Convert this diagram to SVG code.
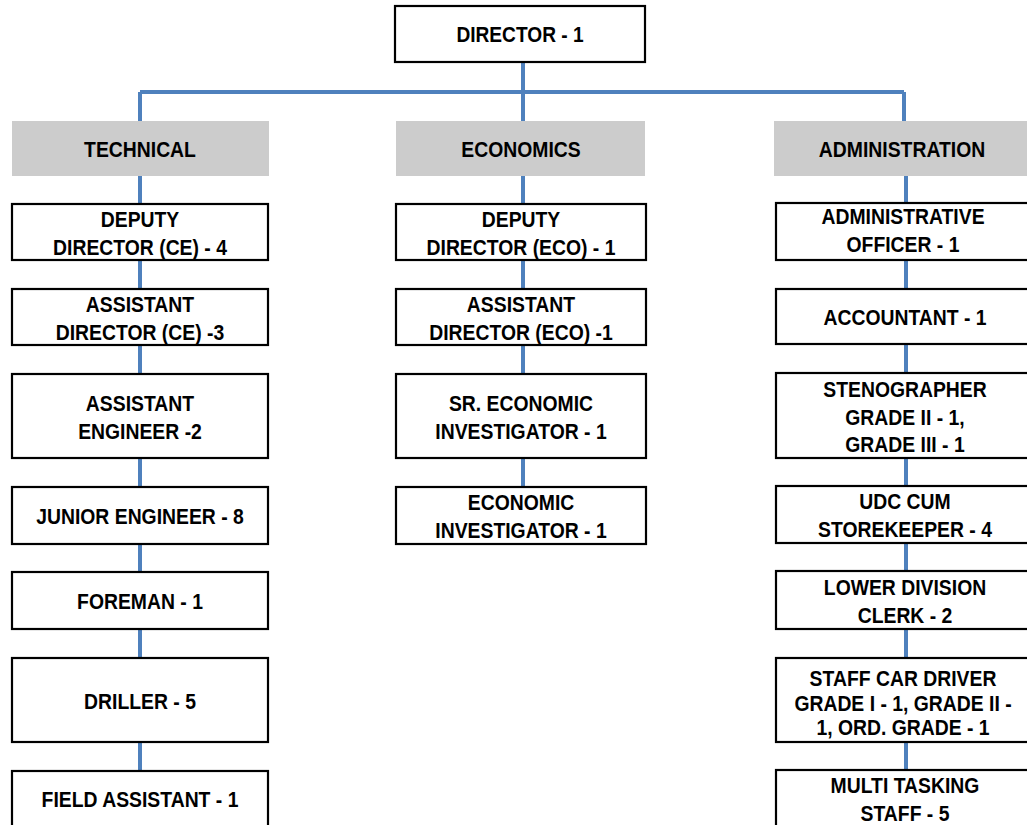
<svg xmlns="http://www.w3.org/2000/svg" width="1027" height="825" viewBox="0 0 1027 825">
<style>
.box{fill:#ffffff;stroke:#000000;stroke-width:2.2}
.hdr{fill:#cccccc;stroke:none}
.t{font-family:"Liberation Sans",Arial,sans-serif;font-weight:bold;font-size:22px;fill:#000000;text-anchor:middle}
.c{stroke:#4f81bd;stroke-width:4;fill:none}
</style>
<rect width="1027" height="825" fill="#ffffff"/>
<g id="connectors">
<path class="c" d="M523 62V121M140 92H904M140 92V121M904 92V121"/>
<path class="c" d="M140 176V204M140 260V289M140 345V374M140 458V487M140 544V572M140 629V658M140 742V771"/>
<path class="c" d="M523 176V204M523 260V289M523 345V374M523 458V487"/>
<path class="c" d="M906 176V203M906 260V289M906 344V373M906 458V486M906 543V571M906 629V658M906 742V770"/>
</g>
<g id="director">
<rect class="box" x="395" y="6" width="250" height="56"/>
<text class="t" transform="translate(520 0) scale(0.87 1)" x="0" y="42">DIRECTOR - 1</text>
</g>
<g id="hdr-technical">
<rect class="hdr" x="12" y="121" width="257" height="55"/>
<text class="t" transform="translate(140 0) scale(0.88 1)" x="0" y="157">TECHNICAL</text>
</g>
<g id="hdr-economics">
<rect class="hdr" x="396" y="121" width="249" height="55"/>
<text class="t" transform="translate(521 0) scale(0.88 1)" x="0" y="157">ECONOMICS</text>
</g>
<g id="hdr-administration">
<rect class="hdr" x="774" y="121" width="260" height="55"/>
<text class="t" transform="translate(902 0) scale(0.88 1)" x="0" y="157">ADMINISTRATION</text>
</g>
<g id="t1">
<rect class="box" x="12" y="204" width="256" height="56"/>
<text class="t" transform="translate(140 0) scale(0.88 1)"><tspan x="0" y="227">DEPUTY</tspan><tspan x="0" y="255">DIRECTOR (CE) - 4</tspan></text>
</g>
<g id="t2">
<rect class="box" x="12" y="289" width="256" height="56"/>
<text class="t" transform="translate(140 0) scale(0.88 1)"><tspan x="0" y="312">ASSISTANT</tspan><tspan x="0" y="340">DIRECTOR (CE) -3</tspan></text>
</g>
<g id="t3">
<rect class="box" x="12" y="374" width="256" height="84"/>
<text class="t" transform="translate(140 0) scale(0.88 1)"><tspan x="0" y="411">ASSISTANT</tspan><tspan x="0" y="439">ENGINEER -2</tspan></text>
</g>
<g id="t4">
<rect class="box" x="12" y="487" width="256" height="57"/>
<text class="t" transform="translate(140 0) scale(0.88 1)" x="0" y="524">JUNIOR ENGINEER - 8</text>
</g>
<g id="t5">
<rect class="box" x="12" y="572" width="256" height="57"/>
<text class="t" transform="translate(140 0) scale(0.88 1)" x="0" y="609">FOREMAN - 1</text>
</g>
<g id="t6">
<rect class="box" x="12" y="658" width="256" height="84"/>
<text class="t" transform="translate(140 0) scale(0.88 1)" x="0" y="709">DRILLER - 5</text>
</g>
<g id="t7">
<rect class="box" x="12" y="771" width="256" height="57"/>
<text class="t" transform="translate(140 0) scale(0.88 1)" x="0" y="807">FIELD ASSISTANT - 1</text>
</g>
<g id="e1">
<rect class="box" x="396" y="204" width="250" height="56"/>
<text class="t" transform="translate(521 0) scale(0.88 1)"><tspan x="0" y="227">DEPUTY</tspan><tspan x="0" y="255">DIRECTOR (ECO) - 1</tspan></text>
</g>
<g id="e2">
<rect class="box" x="396" y="289" width="250" height="56"/>
<text class="t" transform="translate(521 0) scale(0.88 1)"><tspan x="0" y="312">ASSISTANT</tspan><tspan x="0" y="340">DIRECTOR (ECO) -1</tspan></text>
</g>
<g id="e3">
<rect class="box" x="396" y="374" width="250" height="84"/>
<text class="t" transform="translate(521 0) scale(0.88 1)"><tspan x="0" y="411">SR. ECONOMIC</tspan><tspan x="0" y="439">INVESTIGATOR - 1</tspan></text>
</g>
<g id="e4">
<rect class="box" x="396" y="487" width="250" height="57"/>
<text class="t" transform="translate(521 0) scale(0.88 1)"><tspan x="0" y="510">ECONOMIC</tspan><tspan x="0" y="538">INVESTIGATOR - 1</tspan></text>
</g>
<g id="a1">
<rect class="box" x="776" y="203" width="260" height="57"/>
<text class="t" transform="translate(903 0) scale(0.88 1)"><tspan x="0" y="224">ADMINISTRATIVE</tspan><tspan x="0" y="252">OFFICER - 1</tspan></text>
</g>
<g id="a2">
<rect class="box" x="776" y="289" width="260" height="55"/>
<text class="t" transform="translate(905 0) scale(0.88 1)" x="0" y="325">ACCOUNTANT - 1</text>
</g>
<g id="a3">
<rect class="box" x="776" y="373" width="260" height="85"/>
<text class="t" transform="translate(905 0) scale(0.88 1)"><tspan x="0" y="397">STENOGRAPHER</tspan><tspan x="0" y="425">GRADE II - 1,</tspan><tspan x="0" y="452">GRADE III - 1</tspan></text>
</g>
<g id="a4">
<rect class="box" x="776" y="486" width="260" height="57"/>
<text class="t" transform="translate(905 0) scale(0.88 1)"><tspan x="0" y="509">UDC CUM</tspan><tspan x="0" y="537">STOREKEEPER - 4</tspan></text>
</g>
<g id="a5">
<rect class="box" x="776" y="571" width="260" height="58"/>
<text class="t" transform="translate(905 0) scale(0.88 1)"><tspan x="0" y="595">LOWER DIVISION</tspan><tspan x="0" y="623">CLERK - 2</tspan></text>
</g>
<g id="a6">
<rect class="box" x="776" y="658" width="260" height="84"/>
<text class="t" transform="translate(903 0) scale(0.88 1)"><tspan x="0" y="686">STAFF CAR DRIVER</tspan><tspan x="0" y="711">GRADE I - 1, GRADE II -</tspan><tspan x="0" y="735">1, ORD. GRADE - 1</tspan></text>
</g>
<g id="a7">
<rect class="box" x="776" y="770" width="260" height="58"/>
<text class="t" transform="translate(905 0) scale(0.88 1)"><tspan x="0" y="793">MULTI TASKING</tspan><tspan x="0" y="821">STAFF - 5</tspan></text>
</g>
</svg>
